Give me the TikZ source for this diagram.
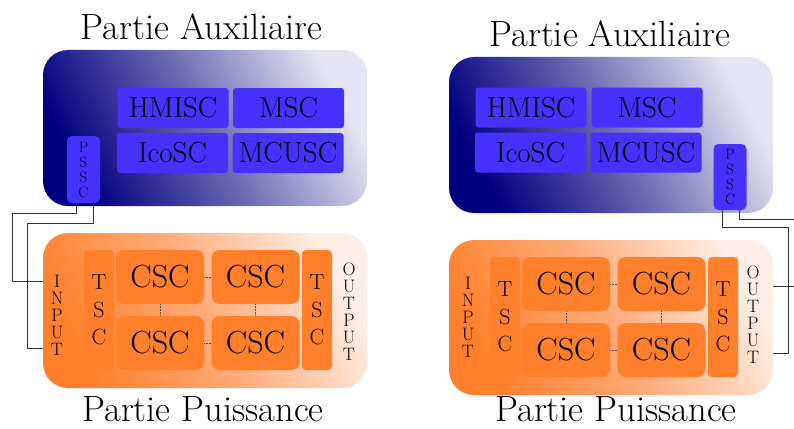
\documentclass[tikz,border=0pt]{standalone}
\usetikzlibrary{calc}

\definecolor{auxdark}{RGB}{0,0,128}
\definecolor{auxmid}{RGB}{105,105,178}
\definecolor{auxlight}{RGB}{228,228,242}
\definecolor{puisdark}{RGB}{255,127,42}
\definecolor{puismid}{RGB}{255,172,122}
\definecolor{puislight}{RGB}{255,238,228}
\definecolor{scblue}{RGB}{70,50,255}
\definecolor{scorange}{RGB}{255,127,42}

\begin{document}
\begin{tikzpicture}[x=1pt,y=-1pt]
	\tikzstyle{partaux} = [rounded corners=25pt, minimum width=324pt, minimum height=156pt, inner sep=0pt, bottom color=auxdark, top color=auxlight, middle color=auxmid, shading angle=-62];
	\tikzstyle{partpuis} = [rounded corners=25pt, minimum width=324pt, minimum height=155pt, inner sep=0pt, bottom color=puisdark, top color=puislight, middle color=puismid, shading angle=-62];
	\tikzstyle{sc} = [fill=scblue, rounded corners=3pt, minimum width=111pt, minimum height=40pt, inner sep=0pt, font=\fontsize{29}{29}\selectfont];
	\tikzstyle{pssc} = [fill=scblue, rounded corners=5pt, minimum width=33pt, minimum height=67pt, inner sep=0pt, align=center, font=\fontsize{15}{15}\selectfont];
	\tikzstyle{csc} = [fill=scorange, rounded corners=8pt, minimum width=88pt, minimum height=54pt, inner sep=0pt, font=\fontsize{32}{32}\selectfont];
	\tikzstyle{tsc} = [fill=scorange, rounded corners=4pt, minimum width=30pt, minimum height=120pt, inner sep=0pt, align=center, font=\fontsize{22}{27.5}\selectfont];
	\tikzstyle{io} = [align=center, inner sep=0pt, font=\fontsize{18}{17}\selectfont];
	\tikzstyle{titre} = [anchor=base, inner sep=0pt, font=\fontsize{36.5}{36.5}\selectfont];
	\tikzstyle{dots} = [densely dotted, gray!60!black, line width=0.5pt];
	\tikzstyle{wire} = [black!80, line width=0.7pt];
	
	\useasboundingbox (0,0) rectangle (794,428);
	
	% schema de gauche
	\node[titre] (titreauxA) at (201.5,39.5) {Partie Auxiliaire};
	\node[partaux] (auxA) at (205,128) {};
	\node[sc] (hmiscA) at (173,108) {HMISC};
	\node[sc] (mscA) at (288.5,108) {MSC};
	\node[sc] (icoscA) at (172.5,153) {IcoSC};
	\node[sc] (mcuscA) at (288,153) {MCUSC};
	\node[pssc] (psscA) at (83.5,169.5) {P\\S\\S\\C};
	
	\node[partpuis] (puisA) at (205,310.5) {};
	\node[io] (inputA) at (57,315) {I\\N\\P\\U\\T};
	\node[tsc] (tscinA) at (99,310) {T\\S\\C};
	\node[csc] (csc1A) at (160,277) {CSC};
	\node[csc] (csc2A) at (255.5,277) {CSC};
	\node[csc] (csc3A) at (160,343) {CSC};
	\node[csc] (csc4A) at (255.5,343) {CSC};
	\node[tsc] (tscoutA) at (317,310) {T\\S\\C};
	\node[io] (outputA) at (349,311.5) {O\\U\\T\\P\\U\\T};
	\node[titre] (titrepuisA) at (203,421) {Partie Puissance};
	
	\draw[dots] (csc1A) -- (csc2A);
	\draw[dots] (csc3A) -- (csc4A);
	\draw[dots] (csc1A) -- (csc3A);
	\draw[dots] (csc2A) -- (csc4A);
	
	\draw[wire] ([xshift=-7.5pt]psscA.south) -- ++(0,10) -- ++(-64,0) |- ([yshift=29.5pt]puisA.west);
	\draw[wire] ([xshift=9.5pt]psscA.south) -- ++(0,20) -- ++(-66,0) |- ([yshift=-37.5pt]puisA.west);
	
	% schema de droite
	\node[titre] (titreauxB) at (610,47) {Partie Auxiliaire};
	\node[partaux] (auxB) at (611,135) {};
	\node[sc] (hmiscB) at (531,107.5) {HMISC};
	\node[sc] (mscB) at (647,107.5) {MSC};
	\node[sc] (icoscB) at (530.5,152.5) {IcoSC};
	\node[sc] (mcuscB) at (646,152.5) {MCUSC};
	\node[pssc, minimum height=66pt] (psscB) at (730,177) {P\\S\\S\\C};
	
	\node[partpuis] (puisB) at (611,317.5) {};
	\node[io] (inputB) at (468,317.5) {I\\N\\P\\U\\T};
	\node[tsc] (tscinB) at (505,317) {T\\S\\C};
	\node[csc] (csc1B) at (566,284) {CSC};
	\node[csc] (csc2B) at (661.5,284) {CSC};
	\node[csc] (csc3B) at (566,350) {CSC};
	\node[csc] (csc4B) at (661.5,350) {CSC};
	\node[tsc] (tscoutB) at (723,317) {T\\S\\C};
	\node[io] (outputB) at (753,315) {O\\U\\T\\P\\U\\T};
	\node[titre] (titrepuisB) at (616,421) {Partie Puissance};
	
	\draw[dots] (csc1B) -- (csc2B);
	\draw[dots] (csc3B) -- (csc4B);
	\draw[dots] (csc1B) -- (csc3B);
	\draw[dots] (csc2B) -- (csc4B);
	
	\draw[wire] ([xshift=-8pt]psscB.south) -- ++(0,17) -- ++(66,0) |- ([yshift=-35.5pt]puisB.east);
	\draw[wire] ([xshift=9pt]psscB.south) -- ++(0,9) -- ++(61,0) |- ([yshift=31.5pt]puisB.east);
\end{tikzpicture}
\end{document}
